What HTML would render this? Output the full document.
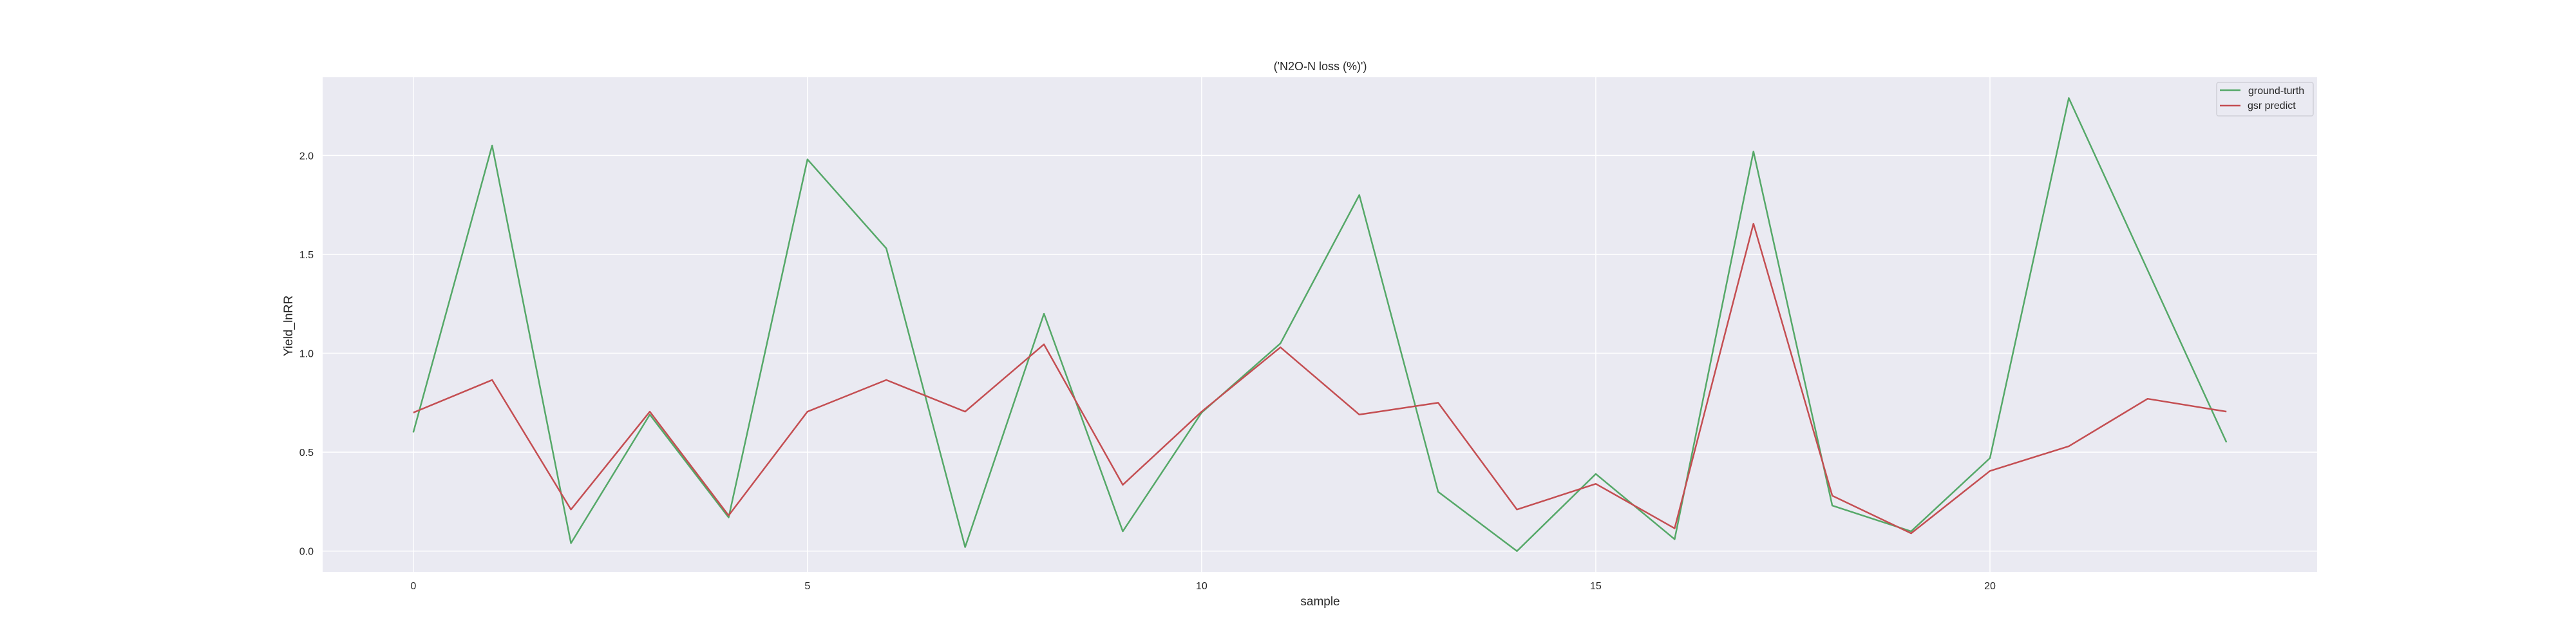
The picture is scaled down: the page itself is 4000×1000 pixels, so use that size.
<!DOCTYPE html>
<html><head><meta charset="utf-8"><style>
body{margin:0;background:#fff;}
svg{display:block;font-family:"Liberation Sans","DejaVu Sans",sans-serif;}
</style></head><body>
<svg id="chart" width="4000" height="1000" xmlns="http://www.w3.org/2000/svg">
<rect x="0" y="0" width="4000" height="1000" fill="#fff"/>
<rect x="501" y="120" width="3097" height="768" fill="#eaeaf2"/>
<g id="grid"></g>
<g id="ticks"></g>
<g id="series"></g>
<text x="2050" y="109" text-anchor="middle" font-size="18" fill="#262626">('N2O-N loss (%)')</text>
<text x="2050" y="940" text-anchor="middle" font-size="19" fill="#262626">sample</text>
<text x="0" y="0" transform="translate(454,506) rotate(-90)" text-anchor="middle" font-size="19" fill="#262626">Yield_lnRR</text>
<g>
<rect x="3442" y="128" width="150" height="52" rx="3" fill="#eaeaf2" stroke="#d0d0d8" stroke-width="1.5"/>
<line x1="3447" y1="140" x2="3479" y2="140" stroke="#55a868" stroke-width="2.5"/>
<text x="3491" y="146" font-size="16" fill="#262626">ground-turth</text>
<line x1="3447" y1="164" x2="3479" y2="164" stroke="#c44e52" stroke-width="2.5"/>
<text x="3490" y="169" font-size="16" fill="#262626">gsr predict</text>
</g>
</svg>
<script>
const samples=[0,1,2,3,4,5,6,7,8,9,10,11,12,13,14,15,16,17,18,19,20,21,22,23];
const groundTruth=[0.6,2.05,0.04,0.69,0.17,1.98,1.53,0.02,1.2,0.1,0.7,1.05,1.8,0.3,0.0,0.39,0.06,2.02,0.23,0.1,0.47,2.29,1.42,0.55];
const gsrPredict=[0.7,0.865,0.21,0.705,0.18,0.705,0.865,0.705,1.045,0.335,0.705,1.03,0.69,0.75,0.21,0.34,0.115,1.655,0.28,0.09,0.405,0.53,0.77,0.705];
const xTicks=[0,5,10,15,20];
const yTicks=[0.0,0.5,1.0,1.5,2.0];
const L=501,R=3598,T=120,B=888;
const xMin=-1.15,xMax=24.15,yMin=-0.105,yMax=2.395;
const xs=v=>L+(v-xMin)/(xMax-xMin)*(R-L);
const ys=v=>B-(v-yMin)/(yMax-yMin)*(B-T);
const NS="http://www.w3.org/2000/svg";
const grid=document.getElementById('grid'),ticks=document.getElementById('ticks'),series=document.getElementById('series');
function mk(tag,attrs,parent){const e=document.createElementNS(NS,tag);for(const k in attrs)e.setAttribute(k,attrs[k]);parent.appendChild(e);return e;}
xTicks.forEach(t=>{
  const g=mk('line',{x1:xs(t),x2:xs(t),y1:T,y2:B,stroke:'#fff','stroke-width':1.5},grid);
  
  
  const tx=mk('text',{x:xs(t),y:B+27,'text-anchor':'middle','font-size':16,fill:'#262626'},ticks);
  tx.textContent=t;
  
  
});
yTicks.forEach(t=>{
  const g=mk('line',{x1:L,x2:R,y1:ys(t),y2:ys(t),stroke:'#fff','stroke-width':1.5},grid);
  
  
  const tx=mk('text',{x:L-14,y:ys(t)+6,'text-anchor':'end','font-size':16,fill:'#262626'},ticks);
  tx.textContent=t.toFixed(1);
  
  
});
function line(vals,color,name){
  const p=mk('polyline',{points:vals.map((v,i)=>xs(samples[i])+','+ys(v)).join(' '),fill:'none',stroke:color,'stroke-width':2.5,'stroke-linejoin':'round'},series);
  
  
}
line(groundTruth,'#55a868','ground-truth-line');
line(gsrPredict,'#c44e52','gsr-predict-line');
</script>
</body></html>
